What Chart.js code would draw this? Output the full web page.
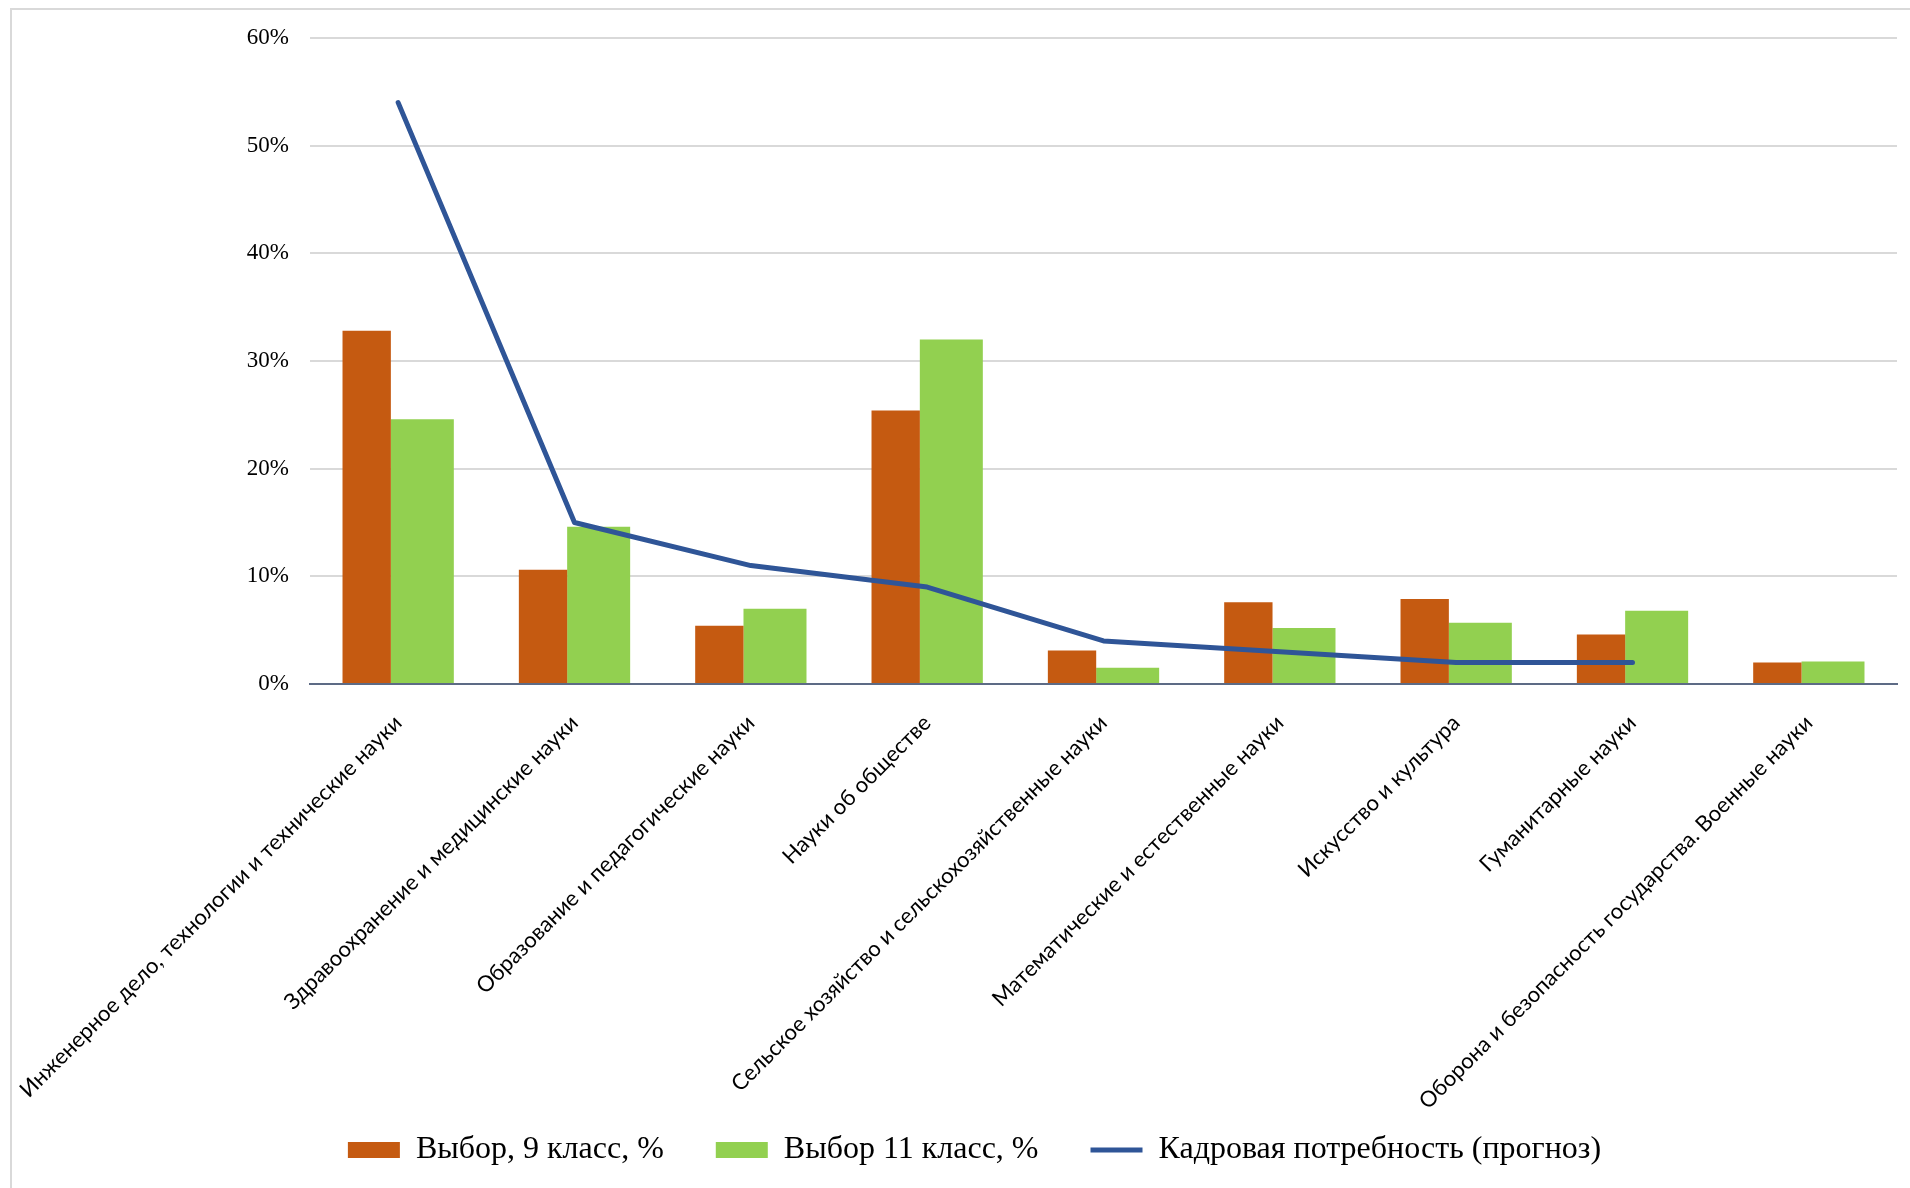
<!DOCTYPE html>
<html>
<head>
<meta charset="utf-8">
<script src="https://cdn.jsdelivr.net/npm/chart.js@4.4.1/dist/chart.umd.min.js"></script>
<style>
  html, body { margin: 0; padding: 0; background: #fff; }
  #wrap { position: relative; width: 1910px; height: 1188px; overflow: hidden; }
  #frame { position: absolute; left: 10px; top: 8px; width: 2000px; height: 1300px;
           border-left: 2px solid #d9d9d9; border-top: 2px solid #d9d9d9; }
  canvas { position: absolute; left: 0; top: 0; }
</style>
</head>
<body>
<div id="wrap">
  <div id="frame"></div>
  <canvas id="chart" width="1910" height="1188"></canvas>
</div>
<script>
// направления подготовки
const categories = [
  'Инженерное дело, технологии и технические науки',
  'Здравоохранение и медицинские науки',
  'Образование и педагогические науки',
  'Науки об обществе',
  'Сельское хозяйство и сельскохозяйственные науки',
  'Математические и естественные науки',
  'Искусство и культура',
  'Гуманитарные науки',
  'Оборона и безопасность государства. Военные науки'
];

// выбор выпускников, %
const grade9 = [32.8, 10.6, 5.4, 25.4, 3.1, 7.6, 7.9, 4.6, 2.0];
const grade11 = [24.6, 14.6, 7.0, 32.0, 1.5, 5.2, 5.7, 6.8, 2.1];
// кадровая потребность (прогноз), %
const demand = [54, 15, 11, 9, 4, 3, 2, 2, null];

const yTicks = [0, 10, 20, 30, 40, 50, 60];

new Chart(document.getElementById('chart'), {
  data: {
    labels: categories,
    datasets: [{
        type: 'bar',
        label: 'Выбор, 9 класс, %',
        data: grade9,
        backgroundColor: '#C55A11',
        // green bar overlaps the orange one a bit, so the orange looks narrower
        categoryPercentage: 0.714,
        barPercentage: 0.768,
        pointStyle: 'rect',
        order: 1
      }, {
        type: 'bar',
        label: 'Выбор 11 класс, %',
        data: grade11,
        backgroundColor: '#92D050',
        categoryPercentage: 0.548,
        barPercentage: 1.304,
        pointStyle: 'rect',
        order: 1
      }, {
        type: 'line',
        label: 'Кадровая потребность (прогноз)',
        data: demand,
        borderColor: '#2F5597',
        backgroundColor: '#2F5597',
        borderWidth: 5,
        borderCapStyle: 'round',
        borderJoinStyle: 'round',
        pointRadius: 0,
        pointStyle: 'line',
        tension: 0,
        fill: false,
        order: 0
      }
    ]
  },
  options: {
    responsive: false,
    animation: false,
    layout: { padding: { top: 38, right: 13, bottom: 12, left: 52 } },
    plugins: {
      tooltip: { enabled: false },
      legend: {
        position: 'bottom',
        labels: {
          usePointStyle: true,
          pointStyleWidth: 52,
          boxHeight: 16,
          padding: 52,
          color: '#000',
          font: { family: '"Liberation Serif", "Times New Roman", serif', size: 32 },
          sort: (a, b) => a.datasetIndex - b.datasetIndex
        }
      }
    },
    scales: {
      x: {
        grid: { display: false, drawTicks: false },
        border: { display: true, color: '#5d6b85', width: 2 },
        ticks: {
          autoSkip: false,
          minRotation: 45,
          maxRotation: 45,
          padding: 26,
          color: '#000',
          font: { family: 'Lato, "Open Sans", sans-serif', size: 22 }
        },
        afterFit: (scale) => {
          scale.height = 398;
          scale.paddingLeft = 0;
          scale.paddingRight = 0;
          // long rotated labels run a little into the legend band, don't clip them
          scale._computeLabelArea = () => undefined;
        }
      },
      y: {
        min: 0,
        max: 60,
        afterBuildTicks: (scale) => { scale.ticks = yTicks.map(v => ({ value: v })); },
        grid: { color: '#d9d9d9', lineWidth: 2, drawTicks: false },
        border: { display: false },
        ticks: {
          padding: 21,
          color: '#000',
          font: { family: '"Liberation Serif", "Times New Roman", serif', size: 23 },
          callback: (v) => v + '%'
        },
        afterFit: (scale) => { scale.width = 258; }
      }
    }
  }
});
</script>
</body>
</html>
